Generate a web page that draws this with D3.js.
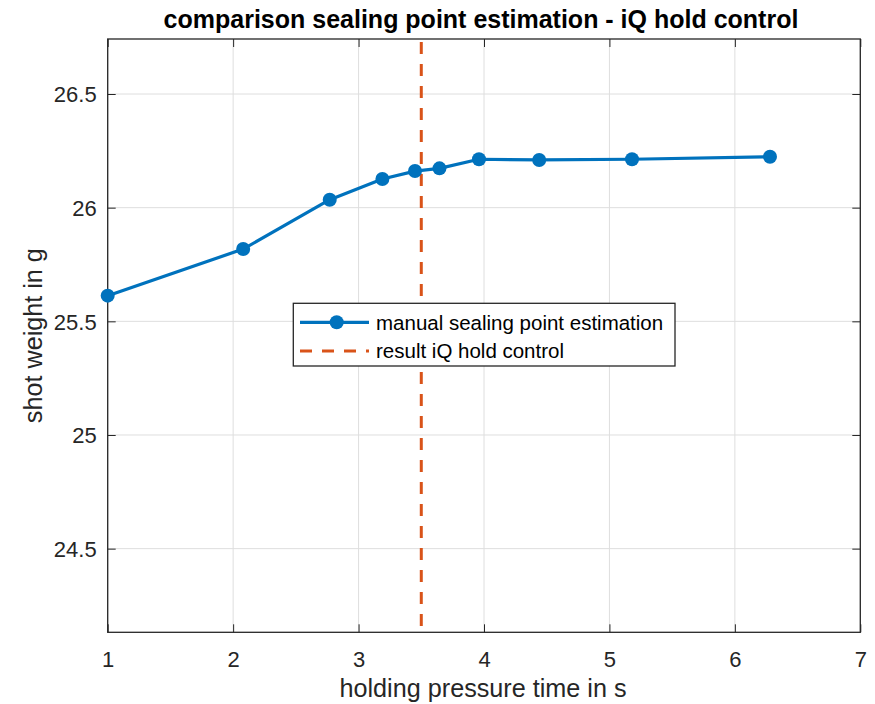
<!DOCTYPE html>
<html>
<head>
<meta charset="utf-8">
<script src="https://cdn.jsdelivr.net/npm/d3@7"></script>
<style>
  html, body { margin: 0; padding: 0; background: #fff; }
  svg { display: block; }
  text { font-family: "Liberation Sans", Arial, Helvetica, sans-serif; }
</style>
</head>
<body>
<svg id="chart" width="875" height="704"></svg>
<script>
// ---- data ----
const holdTimes   = [1.00, 2.08, 2.77, 3.19, 3.45, 3.645, 3.96, 4.44, 5.18, 6.28];
const shotWeights = [25.613, 25.818, 26.035, 26.126, 26.161, 26.173, 26.213, 26.210, 26.213, 26.224];
const iqHoldResult = 3.5;
const xTicks = [1, 2, 3, 4, 5, 6, 7];
const yTicks = [24.5, 25, 25.5, 26, 26.5];
const xDomain = [1, 7];
const yDomain = [24.132, 26.742];
const titleText = "comparison sealing point estimation - iQ hold control";
const xLabelText = "holding pressure time in s";
const yLabelText = "shot weight in g";
const legendLabels = ["manual sealing point estimation", "result iQ hold control"];

// ---- layout ----
const W = 875, H = 704;
const plot = { left: 107.7, top: 39, right: 860.3, bottom: 632.3 };
const blue = "#0072BD", orange = "#D95319", axisCol = "#262626", gridCol = "#dedede";

const svg = d3.select("#chart");
const x = d3.scaleLinear().domain(xDomain).range([plot.left, plot.right]);
const y = d3.scaleLinear().domain(yDomain).range([plot.bottom, plot.top]);

// grid
const g = svg.append("g");
g.selectAll("line.gx").data(xTicks).enter().append("line")
  .attr("x1", d => x(d)).attr("x2", d => x(d))
  .attr("y1", plot.top).attr("y2", plot.bottom)
  .attr("stroke", gridCol).attr("stroke-width", 1);
g.selectAll("line.gy").data(yTicks).enter().append("line")
  .attr("y1", d => y(d)).attr("y2", d => y(d))
  .attr("x1", plot.left).attr("x2", plot.right)
  .attr("stroke", gridCol).attr("stroke-width", 1);

// axes via d3 axis (inner ticks)
const tickLen = 8;
const axB = svg.append("g").attr("transform", `translate(0,${plot.bottom})`)
  .call(d3.axisBottom(x).tickValues(xTicks).tickSizeInner(-tickLen).tickSizeOuter(0).tickPadding(19).tickFormat(d3.format("d")));
const axT = svg.append("g").attr("transform", `translate(0,${plot.top})`)
  .call(d3.axisTop(x).tickValues(xTicks).tickSizeInner(-tickLen).tickSizeOuter(0).tickFormat(""));
const axL = svg.append("g").attr("transform", `translate(${plot.left},0)`)
  .call(d3.axisLeft(y).tickValues(yTicks).tickSizeInner(-tickLen).tickSizeOuter(0).tickPadding(11).tickFormat(d => String(d)));
const axR = svg.append("g").attr("transform", `translate(${plot.right},0)`)
  .call(d3.axisRight(y).tickValues(yTicks).tickSizeInner(-tickLen).tickSizeOuter(0).tickFormat(""));
[axB, axT, axL, axR].forEach(a => {
  a.select(".domain").remove();
  a.selectAll(".tick line").attr("stroke", axisCol).attr("stroke-width", 1);
  a.selectAll(".tick text").attr("fill", axisCol).style("font-size", "22px")
    .style("font-family", '"Liberation Sans", Arial, sans-serif');
});
axB.selectAll(".tick text").attr("dy", "0.71em");
axL.selectAll(".tick text").attr("dy", "0.36em");

// box
svg.append("rect").attr("x", plot.left).attr("y", plot.top)
  .attr("width", plot.right - plot.left).attr("height", plot.bottom - plot.top)
  .attr("fill", "none").attr("stroke", axisCol).attr("stroke-width", 1.3);

// vertical dashed line (iQ hold control)
svg.append("line")
  .attr("x1", x(iqHoldResult)).attr("x2", x(iqHoldResult))
  .attr("y1", plot.top + 3).attr("y2", plot.bottom)
  .attr("stroke", orange).attr("stroke-width", 3).attr("stroke-dasharray", "12,10");

// series line + markers
const pts = holdTimes.map((t, i) => [t, shotWeights[i]]);
svg.append("path").datum(pts)
  .attr("d", d3.line().x(d => x(d[0])).y(d => y(d[1])))
  .attr("fill", "none").attr("stroke", blue).attr("stroke-width", 3.2).attr("stroke-linejoin", "round");
svg.selectAll("circle.pt").data(pts).enter().append("circle")
  .attr("cx", d => x(d[0])).attr("cy", d => y(d[1])).attr("r", 7).attr("fill", blue);

// title & labels
svg.append("text").attr("x", 481).attr("y", 28).attr("text-anchor", "middle")
  .style("font-size", "25px").style("font-weight", "bold").attr("fill", "#000").text(titleText);
svg.append("text").attr("x", 483).attr("y", 697).attr("text-anchor", "middle")
  .style("font-size", "25.2px").attr("fill", axisCol).text(xLabelText);
svg.append("text").attr("transform", `translate(42,${(plot.top + plot.bottom) / 2}) rotate(-90)`)
  .attr("text-anchor", "middle").style("font-size", "25.2px").attr("fill", axisCol).text(yLabelText);

// legend
const lg = svg.append("g");
lg.append("rect").attr("x", 293.3).attr("y", 303.3).attr("width", 381.7).attr("height", 62.7)
  .attr("fill", "#fff").attr("stroke", axisCol).attr("stroke-width", 1.3);
const rows = [322.3, 351];
lg.append("line").attr("x1", 300).attr("x2", 369).attr("y1", rows[0]).attr("y2", rows[0])
  .attr("stroke", blue).attr("stroke-width", 3.2);
lg.append("circle").attr("cx", 336.7).attr("cy", rows[0]).attr("r", 7).attr("fill", blue);
lg.append("line").attr("x1", 300).attr("x2", 369).attr("y1", rows[1]).attr("y2", rows[1])
  .attr("stroke", orange).attr("stroke-width", 3).attr("stroke-dasharray", "12,10");
legendLabels.forEach((t, i) => {
  lg.append("text").attr("x", 376).attr("y", rows[i]).attr("dy", "0.36em")
    .style("font-size", "20.5px").attr("fill", "#000").text(t);
});
</script>
</body>
</html>
